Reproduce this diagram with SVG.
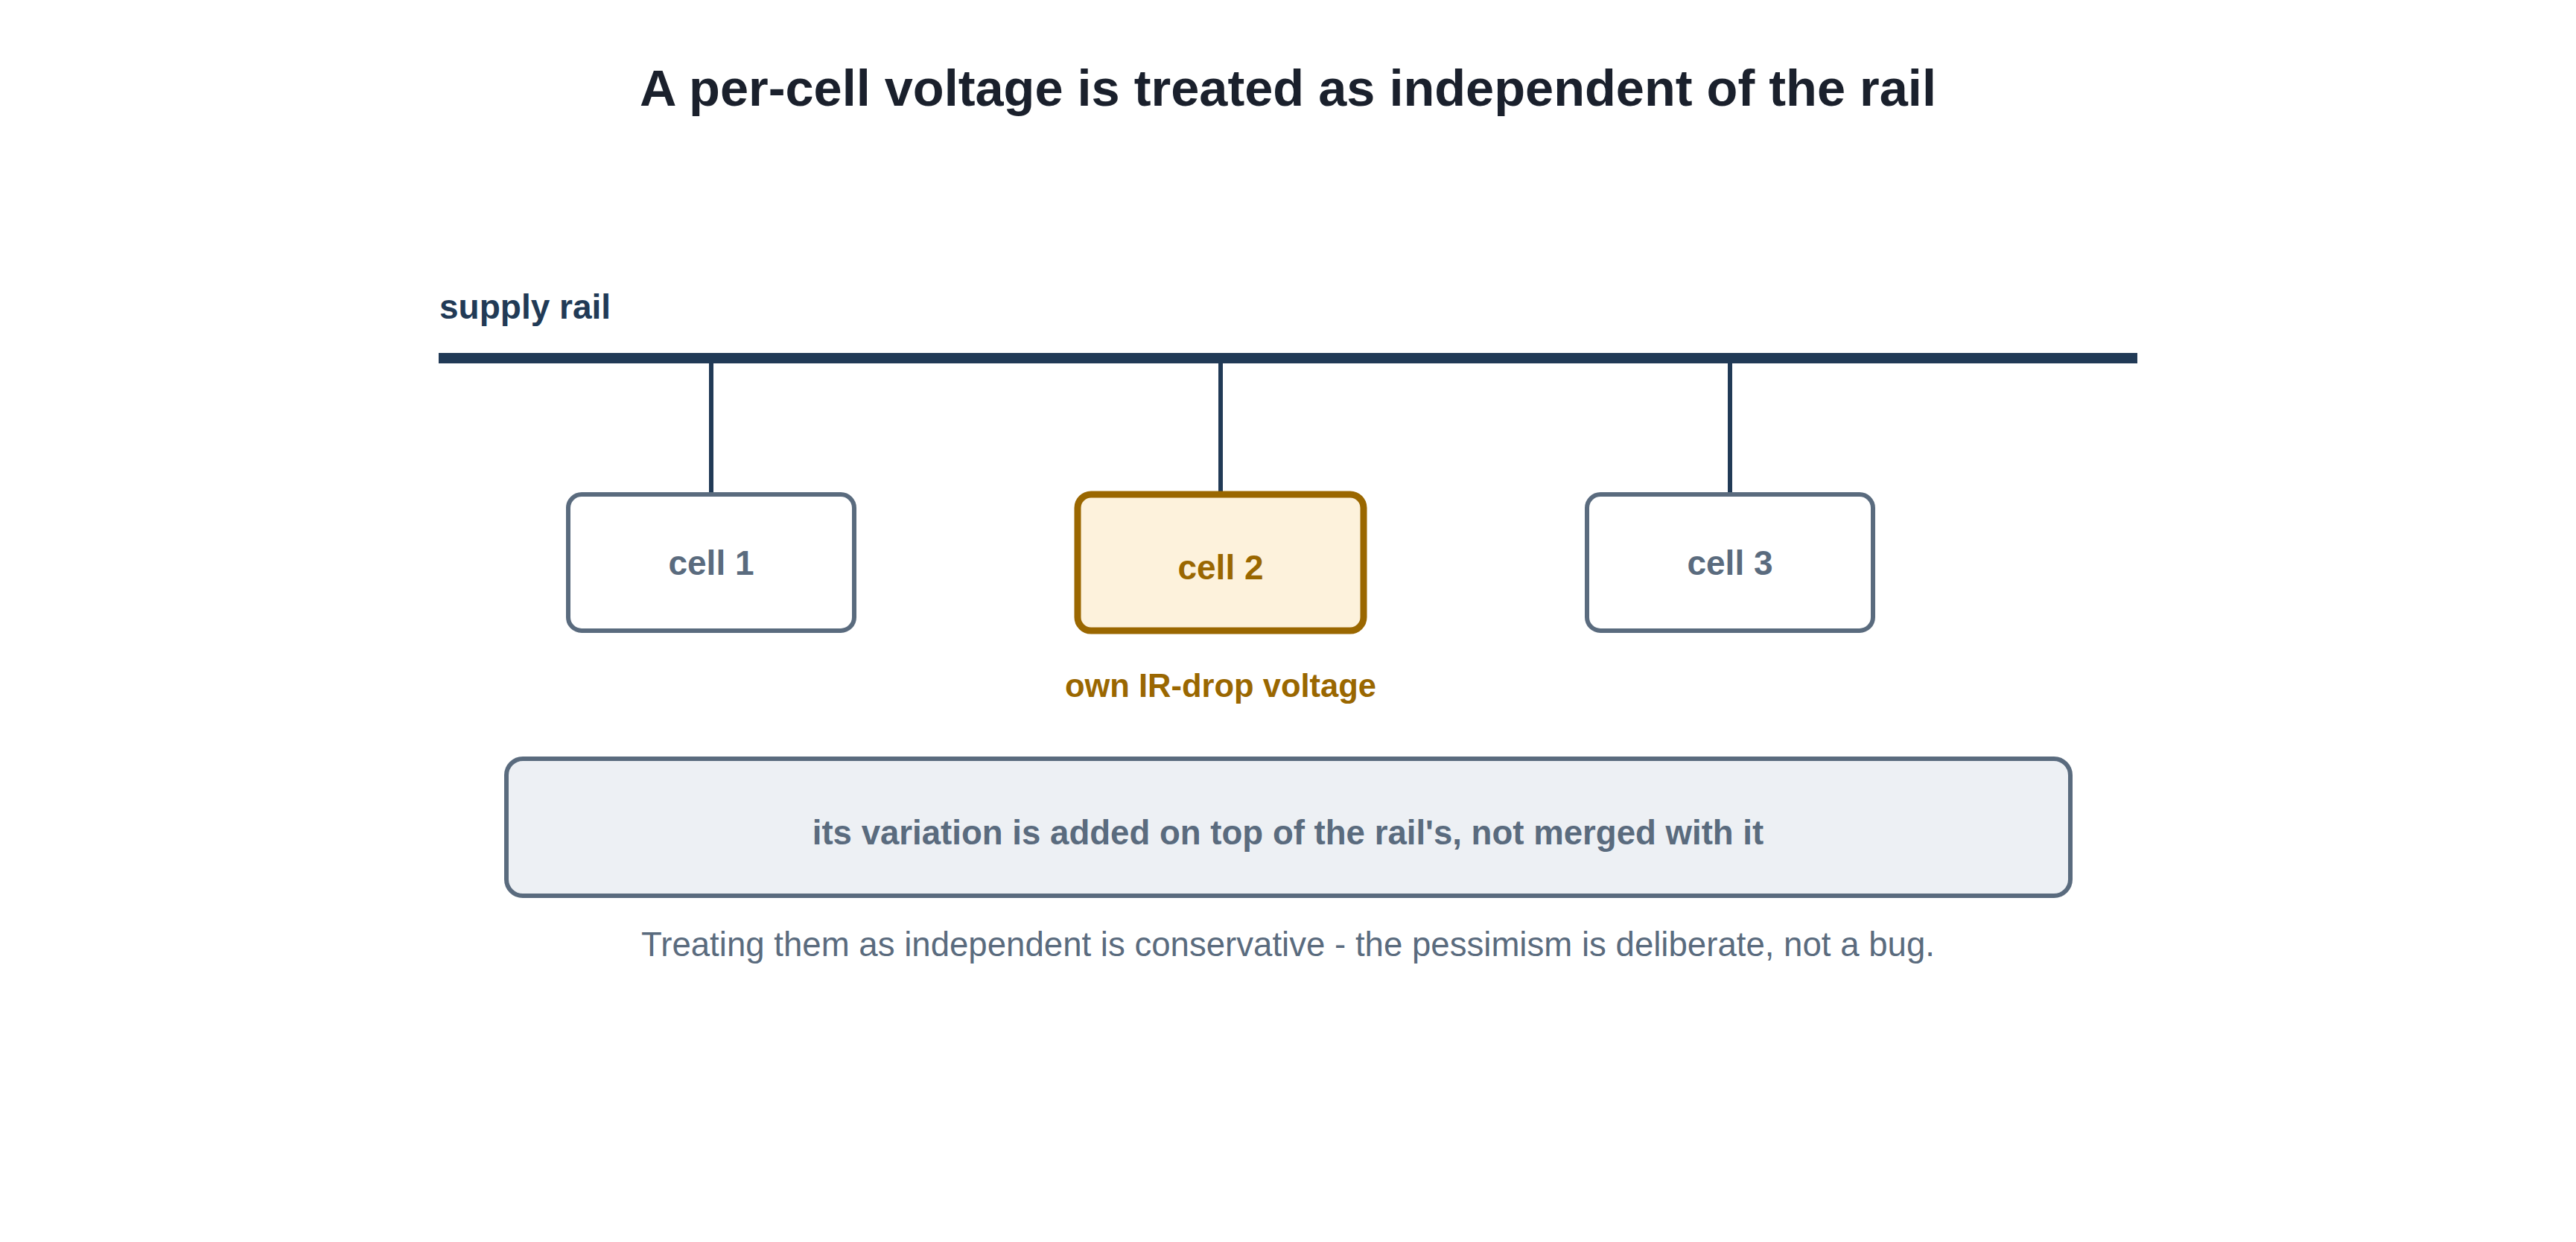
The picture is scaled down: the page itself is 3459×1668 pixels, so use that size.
<svg xmlns="http://www.w3.org/2000/svg" width="3459" height="1668" viewBox="0 0 3459 1668">
  <style>
    text { font-family: "Liberation Sans", Arial, sans-serif; }
    .title { font-size: 68.5px; font-weight: bold; fill: #1a202c; }
    .rail-label { font-size: 46px; font-weight: bold; fill: #213a56; }
    .cell { fill: #ffffff; stroke: #5a6b7e; stroke-width: 6; }
    .cell-hl { fill: #fdf2dc; stroke: #9a6700; stroke-width: 9; }
    .cell-text { font-size: 46px; font-weight: bold; fill: #5a6b7e; text-anchor: middle; }
    .cell-text-hl { font-size: 46px; font-weight: bold; fill: #9a6700; text-anchor: middle; }
    .note-hl { font-size: 43.5px; font-weight: bold; fill: #9a6700; text-anchor: middle; }
    .box { fill: #edf0f4; stroke: #5a6b7e; stroke-width: 6; }
    .box-text { font-size: 45.6px; font-weight: bold; fill: #5a6b7e; text-anchor: middle; }
    .caption { font-size: 45.6px; fill: #5a6b7e; text-anchor: middle; }
    .drop { stroke: #213a56; stroke-width: 6; fill: none; }
    .rail { stroke: #213a56; stroke-width: 14; fill: none; }
  </style>
  <rect x="0" y="0" width="3459" height="1668" fill="#ffffff"/>
  <text class="title" x="1729.5" y="142" text-anchor="middle">A per-cell voltage is treated as independent of the rail</text>

  <g id="rail">
    <text class="rail-label" x="590" y="428">supply rail</text>
    <line class="rail" x1="589" y1="481" x2="2870" y2="481"/>
  </g>

  <g id="connectors">
    <line class="drop" x1="955" y1="488" x2="955" y2="662"/>
    <line class="drop" x1="1639" y1="488" x2="1639" y2="661"/>
    <line class="drop" x1="2323" y1="488" x2="2323" y2="662"/>
  </g>

  <g id="cell1">
    <rect class="cell" x="763" y="664" width="384" height="183" rx="18"/>
    <text class="cell-text" x="955" y="772">cell 1</text>
  </g>
  <g id="cell2">
    <rect class="cell-hl" x="1447" y="664" width="384" height="183" rx="18"/>
    <text class="cell-text-hl" x="1639" y="778">cell 2</text>
    <text class="note-hl" x="1639" y="936">own IR-drop voltage</text>
  </g>
  <g id="cell3">
    <rect class="cell" x="2131" y="664" width="384" height="183" rx="18"/>
    <text class="cell-text" x="2323" y="772">cell 3</text>
  </g>

  <g id="summary">
    <rect class="box" x="680" y="1019" width="2100" height="184" rx="22"/>
    <text class="box-text" x="1729.5" y="1134">its variation is added on top of the rail's, not merged with it</text>
  </g>

  <text class="caption" x="1729.5" y="1284">Treating them as independent is conservative - the pessimism is deliberate, not a bug.</text>
</svg>
